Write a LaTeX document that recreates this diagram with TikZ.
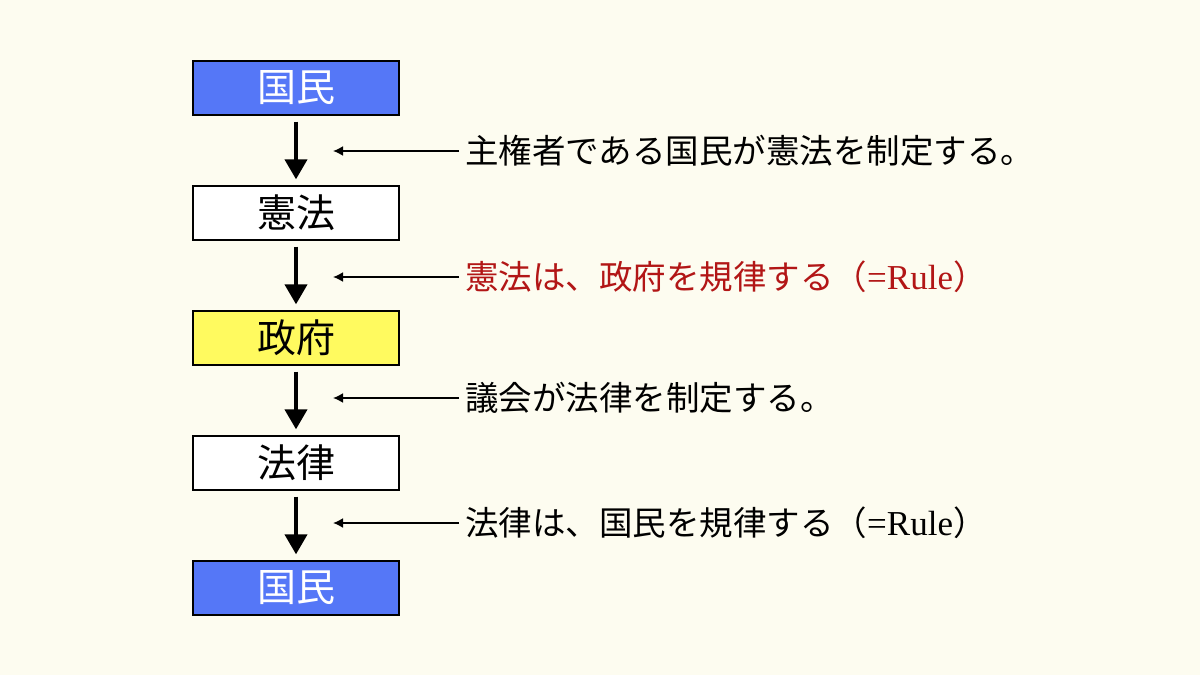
\documentclass[tikz,border=0pt]{standalone}
\usepackage{fontspec}
\setmainfont{Liberation Serif}
\newfontfamily\jp{Noto Sans CJK JP}
\usetikzlibrary{arrows.meta}
\definecolor{bg}{RGB}{253,252,240}
\definecolor{kblue}{RGB}{85,119,247}
\definecolor{kyellow}{RGB}{255,250,95}
\definecolor{kred}{RGB}{178,22,22}
\begin{document}
\begin{tikzpicture}[x=1pt,y=-1pt,
  box/.style={draw=black,line width=1.3pt,minimum width=206pt,minimum height=54pt,inner sep=0pt,font=\jp\fontsize{39}{44}\selectfont},
  lbl/.style={anchor=west,inner xsep=6pt,inner ysep=0pt,font=\jp\fontsize{33.5}{38}\selectfont},
  down/.style={line width=4pt,-{Triangle[width=22pt,length=20pt]},shorten <=6pt,shorten >=6pt},
  side/.style={line width=1.8pt,-{Latex[width=10pt,length=10pt]}}]
\fill[bg] (0,0) rectangle (1200,675);
\useasboundingbox (0,0) rectangle (1200,675);
\node[box,fill=kblue,text=white] (b1) at (296,88) {国民};
\node[box,fill=white] (b2) at (296,213) {憲法};
\node[box,fill=kyellow] (b3) at (296,338) {政府};
\node[box,fill=white] (b4) at (296,463) {法律};
\node[box,fill=kblue,text=white] (b5) at (296,588) {国民};
\draw[down] (b1) -- (b2);
\draw[down] (b2) -- (b3);
\draw[down] (b3) -- (b4);
\draw[down] (b4) -- (b5);
\node[lbl] (l1) at (459,151) {主権者である国民が憲法を制定する。};
\node[lbl,text=kred] (l2) at (459,277) {憲法は、政府を規律する（{\fontsize{35}{40}\selectfont\rmfamily =Rule}）};
\node[lbl] (l3) at (459,398) {議会が法律を制定する。};
\node[lbl] (l4) at (459,523) {法律は、国民を規律する（{\fontsize{35}{40}\selectfont\rmfamily =Rule}）};
\coordinate (c1) at (333,151);
\coordinate (c2) at (333,277);
\coordinate (c3) at (333,398);
\coordinate (c4) at (333,523);
\draw[side] (l1.west) -- (c1);
\draw[side] (l2.west) -- (c2);
\draw[side] (l3.west) -- (c3);
\draw[side] (l4.west) -- (c4);
\end{tikzpicture}
\end{document}
